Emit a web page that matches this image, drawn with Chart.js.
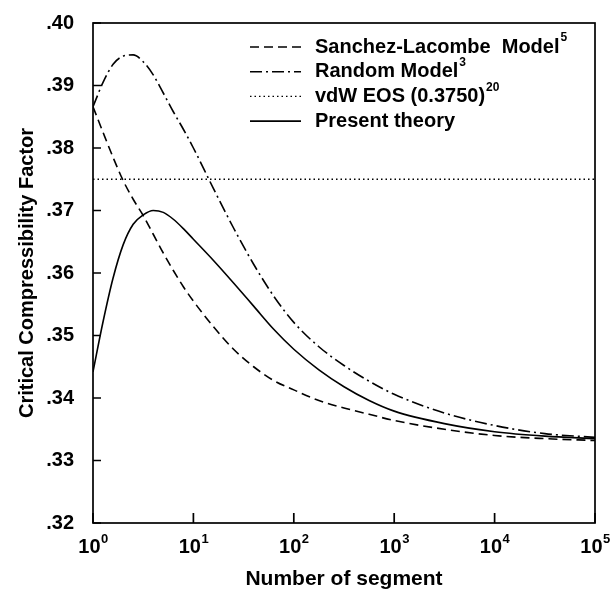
<!DOCTYPE html>
<html><head><meta charset="utf-8">
<script src="https://cdn.jsdelivr.net/npm/chart.js@4.4.1/dist/chart.umd.min.js"></script>
<style>html,body{margin:0;padding:0;background:#fff;}canvas{display:block;}</style>
</head><body>
<canvas id="c" width="611" height="596"></canvas>
<script>
// ---- data ----
const segments = [1, 1.259, 1.585, 1.995, 2.512, 3.162, 3.981, 5.012, 6.310, 7.943, 10, 15.85, 25.12, 39.81, 63.10, 100, 177.8, 316.2, 562.3, 1000, 3162, 10000, 31623, 100000];
const sanchezLacombe = [0.3866, 0.3825, 0.3785, 0.3748, 0.3718, 0.3692, 0.3662, 0.3632, 0.3604, 0.3578, 0.3555, 0.3514, 0.3478, 0.3450, 0.3428, 0.3413, 0.3396, 0.3384, 0.3374, 0.3364, 0.3350, 0.3340, 0.3335, 0.3332];
const randomModel = [0.3866, 0.3905, 0.3934, 0.3947, 0.3949, 0.3938, 0.3917, 0.3888, 0.3858, 0.3830, 0.3800, 0.3735, 0.3672, 0.3614, 0.3563, 0.3521, 0.3482, 0.3452, 0.3427, 0.3406, 0.3376, 0.3356, 0.3343, 0.3337];
const presentTheory = [0.3442, 0.3522, 0.3592, 0.3645, 0.3678, 0.3693, 0.3700, 0.3697, 0.3686, 0.3671, 0.3654, 0.3620, 0.3584, 0.3547, 0.3510, 0.3478, 0.3445, 0.3418, 0.3396, 0.3379, 0.3359, 0.3346, 0.3339, 0.3335];
const vdwSegments = [1, 100000];
const vdwValues = [0.375, 0.375];

const xTickValues = [1, 10, 100, 1000, 10000, 100000];
const xTickBase = '10';
const xTickExponents = ['0', '1', '2', '3', '4', '5'];
const yTickLabels = ['.32', '.33', '.34', '.35', '.36', '.37', '.38', '.39', '.40'];

const seriesNames = ['Sanchez-Lacombe  Model', 'Random Model', 'vdW EOS (0.3750)', 'Present theory'];
const seriesSup = ['5', '3', '20', ''];
const xTitle = 'Number of segment';
const yTitle = 'Critical Compressibility Factor';

// ---- drawing ----
const FONT = '"Liberation Sans", Arial, Helvetica, sans-serif';
const toXY = (xs, ys) => xs.map((x, i) => ({x: x, y: ys[i]}));
Chart.defaults.color = '#000';

const framePlugin = {
  id: 'frame',
  afterDatasetsDraw(chart) {
    const {ctx, chartArea: a, scales: {x, y}} = chart;
    ctx.save();
    ctx.strokeStyle = '#000';
    ctx.lineWidth = 1.7;
    ctx.strokeRect(a.left, a.top, a.right - a.left, a.bottom - a.top);
    ctx.beginPath();
    y.ticks.forEach(t => { const py = y.getPixelForValue(t.value); ctx.moveTo(a.left, py); ctx.lineTo(a.left + 8, py); });
    x.ticks.forEach(t => { const px = x.getPixelForValue(t.value); ctx.moveTo(px, a.bottom); ctx.lineTo(px, a.bottom - 10); });
    ctx.stroke();
    // x tick labels with superscript exponents
    ctx.fillStyle = '#000';
    ctx.textBaseline = 'alphabetic';
    xTickValues.forEach((v, i) => {
      const px = x.getPixelForValue(v);
      ctx.font = 'bold 20px ' + FONT;
      const wb = ctx.measureText(xTickBase).width;
      ctx.font = 'bold 13px ' + FONT;
      const we = ctx.measureText(xTickExponents[i]).width;
      const left = px - (wb + we) / 2;
      ctx.font = 'bold 20px ' + FONT;
      ctx.textAlign = 'left';
      ctx.fillText(xTickBase, left, a.bottom + 30);
      ctx.font = 'bold 13px ' + FONT;
      ctx.fillText(xTickExponents[i], left + wb + 0.5, a.bottom + 20);
    });
    ctx.restore();
  }
};

const legendPlugin = {
  id: 'inLegend',
  afterDraw(chart) {
    const {ctx, chartArea: a} = chart;
    const x0 = a.left + 157, x1 = a.left + 208, tx = a.left + 222;
    const y0 = a.top + 24, dy = 24.7;
    ctx.save();
    chart.data.datasets.forEach((ds, i) => {
      const yy = y0 + i * dy;
      ctx.strokeStyle = ds.borderColor;
      ctx.lineWidth = ds.borderWidth;
      ctx.setLineDash(ds.borderDash || []);
      ctx.beginPath();
      ctx.moveTo(x0, yy); ctx.lineTo(x1, yy);
      ctx.stroke();
      ctx.setLineDash([]);
      ctx.fillStyle = '#000';
      ctx.textAlign = 'left';
      ctx.textBaseline = 'middle';
      ctx.font = 'bold 20px ' + FONT;
      ctx.fillText(seriesNames[i], tx, yy);
      const w = ctx.measureText(seriesNames[i]).width;
      if (seriesSup[i]) {
        ctx.font = 'bold 12px ' + FONT;
        ctx.fillText(seriesSup[i], tx + w + 1, yy - 9);
      }
    });
    ctx.restore();
  }
};

const common = {borderColor: '#000', borderWidth: 1.6, pointRadius: 0, fill: false, cubicInterpolationMode: 'monotone'};

new Chart(document.getElementById('c'), {
  type: 'line',
  data: {
    datasets: [
      Object.assign({label: seriesNames[0], data: toXY(segments, sanchezLacombe), borderDash: [9, 5]}, common),
      Object.assign({label: seriesNames[1], data: toXY(segments, randomModel), borderDash: [12, 4, 2, 4]}, common),
      Object.assign({label: seriesNames[2], data: toXY(vdwSegments, vdwValues), borderDash: [1.5, 3]}, common, {borderWidth: 1.3}),
      Object.assign({label: seriesNames[3], data: toXY(segments, presentTheory)}, common)
    ]
  },
  options: {
    responsive: false,
    animation: false,
    devicePixelRatio: 1,
    layout: {padding: {top: 22, right: 16, bottom: 0, left: 0}},
    plugins: {legend: {display: false}, tooltip: {enabled: false}, title: {display: false}},
    scales: {
      x: {
        type: 'logarithmic', min: 1, max: 100000,
        afterBuildTicks: s => { s.ticks = xTickValues.map(v => ({value: v})); },
        afterFit: s => { s.height = 73; },
        grid: {display: false}, border: {display: false},
        ticks: {display: false},
        title: {display: true, text: xTitle, font: {family: FONT, size: 21, weight: 'bold'}, padding: {top: 0, bottom: 4}, color: '#000'}
      },
      y: {
        type: 'linear', min: 0.32, max: 0.40,
        afterBuildTicks: s => { s.ticks = yTickLabels.map(l => ({value: parseFloat('0' + l)})); },
        afterFit: s => { s.width = 93; },
        grid: {display: false}, border: {display: false},
        ticks: {
          autoSkip: false, padding: 11, color: '#000',
          font: {family: FONT, size: 20, weight: 'bold'},
          callback: (v, i) => yTickLabels[i]
        },
        title: {display: true, text: yTitle, font: {family: FONT, size: 20, weight: 'bold'}, padding: {top: 15, bottom: 0}, color: '#000'}
      }
    }
  },
  plugins: [framePlugin, legendPlugin]
});
</script>
</body></html>
